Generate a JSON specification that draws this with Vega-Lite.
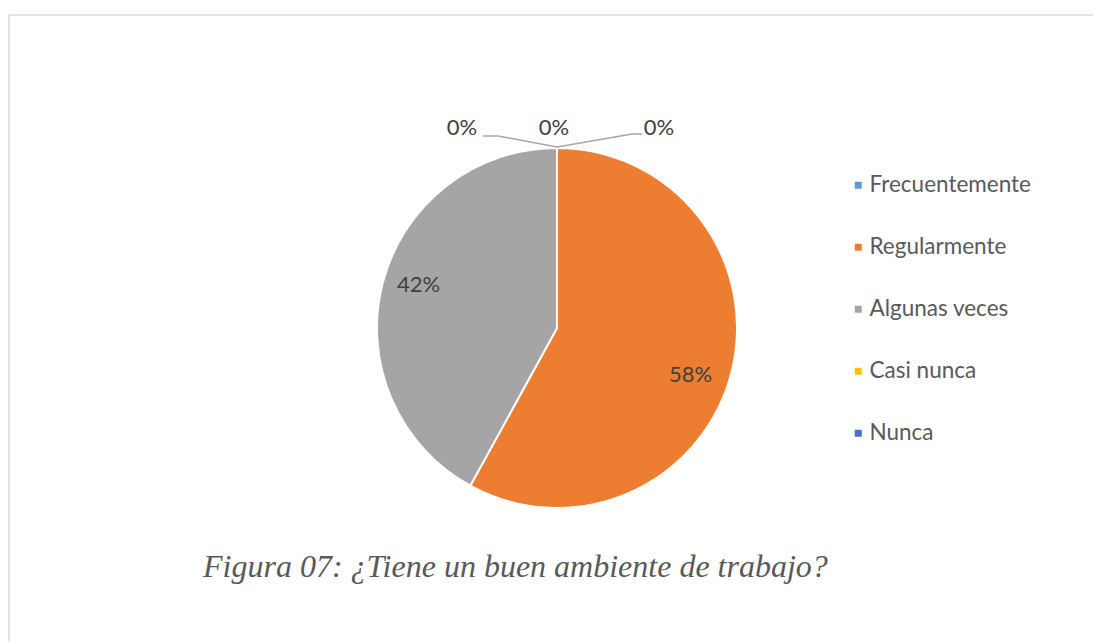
{
  "$schema": "https://vega.github.io/schema/vega-lite/v6.json",
  "width": 1096,
  "height": 628,
  "autosize": {"type": "none"},
  "padding": {"left": 9, "top": 15, "right": -12, "bottom": -2},
  "background": "white",
  "title": {
    "text": "Figura 07: ¿Tiene un buen ambiente de trabajo?",
    "orient": "bottom",
    "anchor": "start",
    "frame": "group",
    "dx": 194,
    "offset": -66,
    "baseline": "alphabetic",
    "font": "Liberation Serif",
    "fontStyle": "italic",
    "fontWeight": "normal",
    "fontSize": 32,
    "color": "#595959"
  },
  "datasets": {
    "respuestas": [
      {"respuesta": "Frecuentemente", "orden": 1, "proporcion": 0.0},
      {"respuesta": "Regularmente", "orden": 2, "proporcion": 0.58},
      {"respuesta": "Algunas veces", "orden": 3, "proporcion": 0.42},
      {"respuesta": "Casi nunca", "orden": 4, "proporcion": 0.0},
      {"respuesta": "Nunca", "orden": 5, "proporcion": 0.0}
    ],
    "guias": [
      {"guia": "izquierda", "paso": 1, "gx": -0.411, "gy": 1.067},
      {"guia": "izquierda", "paso": 2, "gx": -0.328, "gy": 1.067},
      {"guia": "izquierda", "paso": 3, "gx": 0.0, "gy": 1.006},
      {"guia": "derecha", "paso": 1, "gx": 0.0, "gy": 1.006},
      {"guia": "derecha", "paso": 2, "gx": 0.417, "gy": 1.078},
      {"guia": "derecha", "paso": 3, "gx": 0.472, "gy": 1.078}
    ]
  },
  "data": {"name": "respuestas"},
  "layer": [
    {
      "mark": {"type": "arc", "radius": 180, "stroke": "white", "strokeWidth": 2},
      "encoding": {
        "x": {"datum": 0, "type": "quantitative", "scale": {"domain": [-3.0444, 3.0444], "nice": false, "zero": false}, "axis": null},
        "y": {"datum": 0, "type": "quantitative", "scale": {"domain": [-1.75, 1.7389], "nice": false, "zero": false}, "axis": null},
        "theta": {"field": "proporcion", "type": "quantitative", "stack": true},
        "order": {"field": "orden", "type": "quantitative"},
        "color": {
          "field": "respuesta",
          "type": "nominal",
          "sort": ["Frecuentemente", "Regularmente", "Algunas veces", "Casi nunca", "Nunca"],
          "scale": {
            "domain": ["Frecuentemente", "Regularmente", "Algunas veces", "Casi nunca", "Nunca"],
            "range": ["#5B9BD5", "#ED7D31", "#A5A5A5", "#FFC000", "#4472C4"]
          },
          "legend": {
            "title": null,
            "orient": "none",
            "legendX": 838,
            "legendY": 159,
            "symbolType": "square",
            "symbolSize": 49,
            "symbolStrokeWidth": 0,
            "labelFont": "Lato",
            "labelFontSize": 22.5,
            "labelColor": "#595959",
            "labelOffset": 0,
            "labelLimit": 400,
            "rowPadding": 39,
            "padding": 0
          }
        }
      }
    },
    {
      "transform": [{"filter": "datum.respuesta === 'Regularmente'"}],
      "mark": {"type": "text", "radius": 143, "dx": -5, "dy": 11, "font": "Lato", "fontSize": 22, "color": "#404040", "align": "center", "baseline": "middle"},
      "encoding": {
        "x": {"datum": 0, "type": "quantitative"},
        "y": {"datum": 0, "type": "quantitative"},
        "theta": {"datum": 0.29, "type": "quantitative"},
        "text": {"field": "proporcion", "type": "quantitative", "format": ".0%"}
      }
    },
    {
      "transform": [{"filter": "datum.respuesta === 'Algunas veces'"}],
      "mark": {"type": "text", "radius": 143, "dx": 0, "dy": -7, "font": "Lato", "fontSize": 22, "color": "#404040", "align": "center", "baseline": "middle"},
      "encoding": {
        "x": {"datum": 0, "type": "quantitative"},
        "y": {"datum": 0, "type": "quantitative"},
        "theta": {"datum": 0.79, "type": "quantitative"},
        "text": {"field": "proporcion", "type": "quantitative", "format": ".0%"}
      }
    },
    {
      "data": {"name": "guias"},
      "mark": {"type": "line", "color": "#A6A6A6", "strokeWidth": 1.5},
      "encoding": {
        "x": {"field": "gx", "type": "quantitative"},
        "y": {"field": "gy", "type": "quantitative"},
        "detail": {"field": "guia", "type": "nominal"},
        "order": {"field": "paso", "type": "quantitative"}
      }
    },
    {
      "transform": [{"filter": "datum.respuesta === 'Casi nunca'"}],
      "mark": {"type": "text", "dx": -95, "dy": -200, "font": "Lato", "fontSize": 22, "color": "#404040", "align": "center", "baseline": "middle"},
      "encoding": {
        "x": {"datum": 0, "type": "quantitative"},
        "y": {"datum": 0, "type": "quantitative"},
        "text": {"field": "proporcion", "type": "quantitative", "format": ".0%"}
      }
    },
    {
      "transform": [{"filter": "datum.respuesta === 'Nunca'"}],
      "mark": {"type": "text", "dx": -3, "dy": -200, "font": "Lato", "fontSize": 22, "color": "#404040", "align": "center", "baseline": "middle"},
      "encoding": {
        "x": {"datum": 0, "type": "quantitative"},
        "y": {"datum": 0, "type": "quantitative"},
        "text": {"field": "proporcion", "type": "quantitative", "format": ".0%"}
      }
    },
    {
      "transform": [{"filter": "datum.respuesta === 'Frecuentemente'"}],
      "mark": {"type": "text", "dx": 102, "dy": -200, "font": "Lato", "fontSize": 22, "color": "#404040", "align": "center", "baseline": "middle"},
      "encoding": {
        "x": {"datum": 0, "type": "quantitative"},
        "y": {"datum": 0, "type": "quantitative"},
        "text": {"field": "proporcion", "type": "quantitative", "format": ".0%"}
      }
    }
  ],
  "config": {
    "view": {"stroke": "#D9D9D9", "strokeWidth": 1.5}
  }
}
